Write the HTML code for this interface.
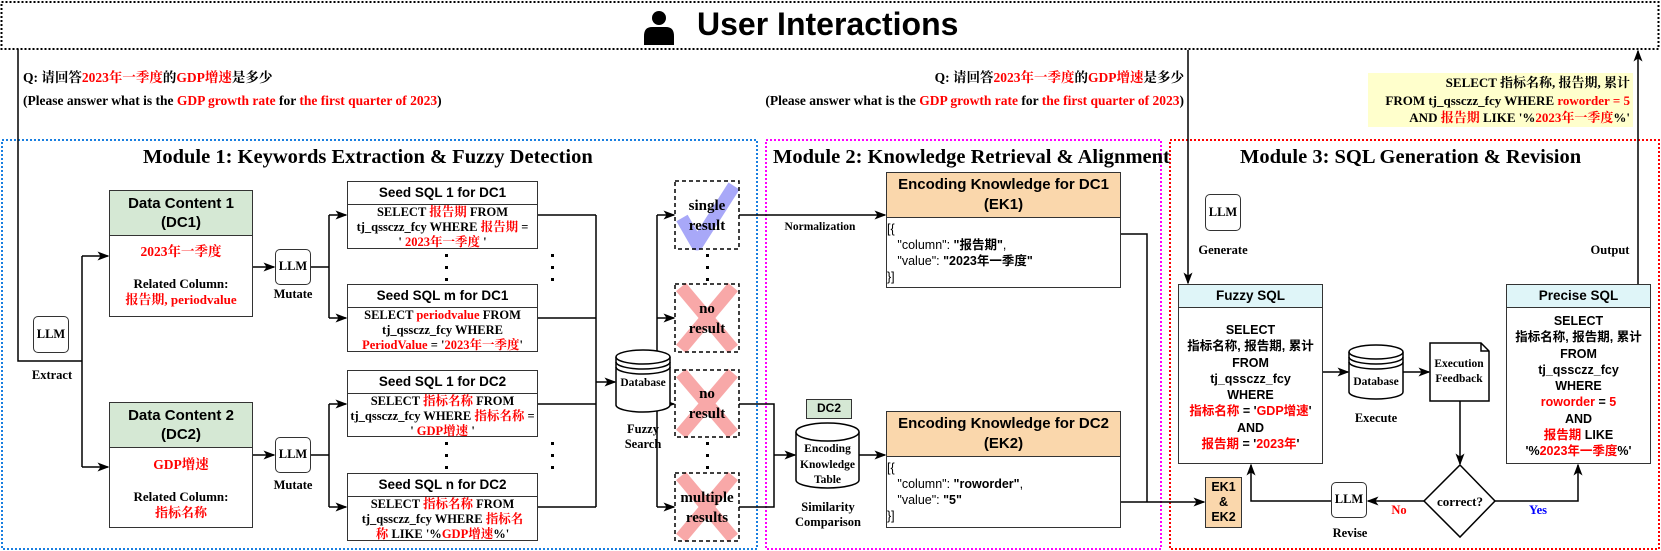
<!DOCTYPE html>
<html><head><meta charset="utf-8"><style>
html,body{margin:0;padding:0;}
body{width:1661px;height:551px;background:#fff;position:relative;overflow:hidden;font-family:"Liberation Serif","Noto Serif CJK SC",serif;}
.a{position:absolute;white-space:nowrap;}
.s{font-family:"Liberation Sans","Noto Sans CJK SC",sans-serif;font-weight:bold;}
.b{font-weight:bold;}
.r{color:#f00;}
.c{text-align:center;}
.box{position:absolute;border:1.5px solid #333;box-sizing:border-box;background:#fff;}
.hd{border-bottom:1.5px solid #333;box-sizing:border-box;text-align:center;font-family:"Liberation Sans","Noto Sans CJK SC",sans-serif;font-weight:bold;white-space:nowrap;}
.t{font-size:12.5px;font-weight:bold;text-align:center;line-height:15px;white-space:nowrap;}
.q{font-size:13.5px;line-height:15px;}
svg{position:absolute;left:0;top:0;}
</style></head><body>
<svg width="1661" height="551" viewBox="0 0 1661 551">
<defs><marker id="ar" markerWidth="8" markerHeight="8" refX="7" refY="4" orient="auto"><path d="M0,1 L8,4 L0,7 L2,4z" fill="#000"/></marker></defs>
<rect x="1.5" y="2" width="1657" height="47" fill="none" stroke="#000" stroke-width="2" stroke-dasharray="2,2"/>
<rect x="1368" y="73" width="265" height="54" fill="#ffffcc"/>
<rect x="2" y="140" width="755" height="409" fill="none" stroke="#1a7fe0" stroke-width="2" stroke-dasharray="2,2"/>
<rect x="766" y="140" width="395" height="409" fill="none" stroke="#f0f" stroke-width="2" stroke-dasharray="2,2"/>
<rect x="1170" y="140" width="489" height="409" fill="none" stroke="#f00" stroke-width="2" stroke-dasharray="2,2"/>
<g fill="none" stroke="#000" stroke-width="1.5">
<polyline points="18,49 18,361 82,361"/>
<line x1="82" y1="256" x2="82" y2="467"/>
<line x1="82" y1="256" x2="108" y2="256" marker-end="url(#ar)"/>
<line x1="82" y1="467" x2="108" y2="467" marker-end="url(#ar)"/>
<line x1="253" y1="267" x2="274" y2="267" marker-end="url(#ar)"/>
<line x1="253" y1="455" x2="274" y2="455" marker-end="url(#ar)"/>
<line x1="311" y1="267" x2="329" y2="267"/><line x1="311" y1="455" x2="329" y2="455"/>
<line x1="329" y1="215" x2="329" y2="318"/><line x1="329" y1="404" x2="329" y2="507"/>
<line x1="329" y1="215" x2="346" y2="215" marker-end="url(#ar)"/>
<line x1="329" y1="318" x2="346" y2="318" marker-end="url(#ar)"/>
<line x1="329" y1="404" x2="346" y2="404" marker-end="url(#ar)"/>
<line x1="329" y1="507" x2="346" y2="507" marker-end="url(#ar)"/>
<line x1="538" y1="215" x2="596" y2="215"/><line x1="538" y1="318" x2="596" y2="318"/>
<line x1="538" y1="404" x2="596" y2="404"/><line x1="538" y1="507" x2="596" y2="507"/>
<line x1="596" y1="215" x2="596" y2="507"/>
<line x1="596" y1="382" x2="615" y2="382" marker-end="url(#ar)"/>
<line x1="670" y1="382" x2="657" y2="382"/>
<line x1="657" y1="215" x2="657" y2="507"/>
<line x1="657" y1="215" x2="674" y2="215" marker-end="url(#ar)"/>
<line x1="657" y1="318" x2="674" y2="318" marker-end="url(#ar)"/>
<line x1="657" y1="404" x2="674" y2="404" marker-end="url(#ar)"/>
<line x1="657" y1="507" x2="674" y2="507" marker-end="url(#ar)"/>
<line x1="739" y1="215" x2="885" y2="215" marker-end="url(#ar)"/>
<polyline points="739,404 774,404 774,507 739,507"/>
<line x1="774" y1="455" x2="795" y2="455" marker-end="url(#ar)"/>
<line x1="859" y1="455" x2="885" y2="455" marker-end="url(#ar)"/>
<polyline points="1120,234 1147,234 1147,502"/>
<line x1="1120" y1="502" x2="1204" y2="502" marker-end="url(#ar)"/>
<line x1="1188" y1="50" x2="1188" y2="283" marker-end="url(#ar)"/>
<line x1="1323" y1="372" x2="1348" y2="372" marker-end="url(#ar)"/>
<line x1="1403" y1="372" x2="1429" y2="372" marker-end="url(#ar)"/>
<line x1="1460" y1="401" x2="1460" y2="464" marker-end="url(#ar)"/>
<line x1="1424" y1="501" x2="1368" y2="501" marker-end="url(#ar)"/>
<polyline points="1331,501 1251,501 1251,465" marker-end="url(#ar)"/>
<polyline points="1495,501 1578,501 1578,465" marker-end="url(#ar)"/>
<line x1="1638" y1="284" x2="1638" y2="51" marker-end="url(#ar)"/>
</g>
<g fill="#000">
<rect x="445" y="254" width="3" height="3"/><rect x="445" y="266" width="3" height="3"/><rect x="445" y="278" width="3" height="3"/>
<rect x="551" y="254" width="3" height="3"/><rect x="551" y="266" width="3" height="3"/><rect x="551" y="278" width="3" height="3"/>
<rect x="445" y="442" width="3" height="3"/><rect x="445" y="454" width="3" height="3"/><rect x="445" y="466" width="3" height="3"/>
<rect x="551" y="442" width="3" height="3"/><rect x="551" y="454" width="3" height="3"/><rect x="551" y="466" width="3" height="3"/>
<rect x="706" y="254" width="3" height="3"/><rect x="706" y="266" width="3" height="3"/><rect x="706" y="278" width="3" height="3"/>
<rect x="706" y="442" width="3" height="3"/><rect x="706" y="454" width="3" height="3"/><rect x="706" y="466" width="3" height="3"/>
</g>
<path d="M682,218 L697,244 L734,186" fill="none" stroke="#a8a8f8" stroke-width="13" stroke-linejoin="round"/>
<g stroke="#f8a8a8" stroke-width="13">
<line x1="681" y1="287" x2="733" y2="349"/><line x1="733" y1="287" x2="681" y2="349"/>
<line x1="681" y1="373" x2="733" y2="434"/><line x1="733" y1="373" x2="681" y2="434"/>
<line x1="681" y1="476" x2="733" y2="538"/><line x1="733" y1="476" x2="681" y2="538"/>
</g>
<g fill="none" stroke="#000" stroke-width="1.5" stroke-dasharray="4,3">
<rect x="675" y="181" width="64" height="68"/><rect x="675" y="284" width="64" height="68"/>
<rect x="675" y="370" width="64" height="67"/><rect x="675" y="473" width="64" height="68"/>
</g>
<g fill="#fff" stroke="#000" stroke-width="1.5">
<path d="M616,357 L616,405 A27,7 0 0 0 670,405 L670,357"/><ellipse cx="643" cy="357" rx="27" ry="7"/>
<path d="M616,362 A27,7 0 0 0 670,362 M616,367 A27,7 0 0 0 670,367" fill="none"/>
<path d="M796,432 L796,480 A31.5,8 0 0 0 859,480 L859,432"/><ellipse cx="827.5" cy="432" rx="31.5" ry="9"/>
<path d="M1349,352 L1349,392 A27,7 0 0 0 1403,392 L1403,352"/><ellipse cx="1376" cy="352" rx="27" ry="7"/>
<path d="M1349,357 A27,7 0 0 0 1403,357 M1349,362 A27,7 0 0 0 1403,362" fill="none"/>
<path d="M1430,343 L1481,343 L1489,351 L1489,401 L1430,401 Z"/><path d="M1481,343 L1481,351 L1489,351" fill="none"/>
<path d="M1460,465 L1495,501 L1460,537 L1424,501 Z"/>
</g>
<circle cx="659" cy="18" r="7" fill="#000"/><path d="M644,45 L644,36 Q644,27 652,27 L666,27 Q674,27 674,36 L674,45 Z" fill="#000"/>
</svg>

<div class="a s" style="left:697px;top:6px;font-size:32px;">User Interactions</div>
<div class="a b q" style="left:23px;top:70px;">Q: 请回答<span class="r">2023年一季度</span>的<span class="r">GDP增速</span>是多少</div>
<div class="a b q" style="left:23px;top:93px;">(Please answer what is the <span class="r">GDP growth rate</span> for <span class="r">the first quarter of 2023</span>)</div>
<div class="a b q" style="left:584px;top:70px;text-align:right;width:600px;">Q: 请回答<span class="r">2023年一季度</span>的<span class="r">GDP增速</span>是多少</div>
<div class="a b q" style="left:584px;top:93px;text-align:right;width:600px;">(Please answer what is the <span class="r">GDP growth rate</span> for <span class="r">the first quarter of 2023</span>)</div>
<div class="a b" style="left:1368px;top:74px;width:262px;font-size:13px;line-height:17.5px;text-align:right;">SELECT 指标名称, 报告期, 累计<br>FROM tj_qssczz_fcy WHERE <span class="r">roworder = 5</span><br>AND <span class="r">报告期</span> LIKE '%<span class="r">2023年一季度</span>%'</div>

<div class="a b" style="left:143px;top:146px;font-size:20.5px;">Module 1: Keywords Extraction &amp; Fuzzy Detection</div>
<div class="a b" style="left:773px;top:146px;font-size:20.5px;">Module 2: Knowledge Retrieval &amp; Alignment</div>
<div class="a b" style="left:1240px;top:146px;font-size:20.5px;">Module 3: SQL Generation &amp; Revision</div>

<div class="box t" style="left:33px;top:316px;width:36px;height:37px;border-radius:5px;line-height:34px;">LLM</div>
<div class="a t" style="left:22px;top:368px;width:60px;">Extract</div>
<div class="box t" style="left:275px;top:249px;width:36px;height:36px;border-radius:5px;line-height:33px;">LLM</div>
<div class="a t" style="left:263px;top:287px;width:60px;">Mutate</div>
<div class="box t" style="left:275px;top:437px;width:36px;height:36px;border-radius:5px;line-height:33px;">LLM</div>
<div class="a t" style="left:263px;top:478px;width:60px;">Mutate</div>
<div class="box t" style="left:1205px;top:194px;width:36px;height:37px;border-radius:5px;line-height:34px;">LLM</div>
<div class="a t" style="left:1193px;top:243px;width:60px;">Generate</div>
<div class="box t" style="left:1331px;top:482px;width:36px;height:36px;border-radius:5px;line-height:33px;">LLM</div>
<div class="a t" style="left:1320px;top:526px;width:60px;">Revise</div>
<div class="a t" style="left:1580px;top:243px;width:60px;">Output</div>

<div class="box" style="left:109px;top:190px;width:144px;height:127px;">
<div class="hd" style="height:45px;background:#d5e8d4;font-size:15px;line-height:19px;padding-top:3px;">Data Content 1<br>(DC1)</div>
<div class="t r" style="margin-top:8px;font-size:13.5px;">2023年一季度</div>
<div class="t" style="margin-top:17px;font-size:13px;line-height:16px;">Related Column:<br><span class="r">报告期, periodvalue</span></div></div>
<div class="box" style="left:109px;top:402px;width:144px;height:126px;">
<div class="hd" style="height:45px;background:#d5e8d4;font-size:15px;line-height:19px;padding-top:3px;">Data Content 2<br>(DC2)</div>
<div class="t r" style="margin-top:9px;font-size:13.5px;">GDP增速</div>
<div class="t" style="margin-top:17px;font-size:13px;line-height:16px;">Related Column:<br><span class="r">指标名称</span></div></div>

<div class="box" style="left:347px;top:181px;width:191px;height:68px;">
<div class="hd" style="height:23px;font-size:13.5px;line-height:21px;">Seed SQL 1 for DC1</div>
<div class="t">SELECT <span class="r">报告期</span> FROM<br>tj_qssczz_fcy WHERE <span class="r">报告期</span> =<br>' <span class="r">2023年一季度</span> '</div></div>
<div class="box" style="left:347px;top:284px;width:191px;height:68px;">
<div class="hd" style="height:23px;font-size:13.5px;line-height:21px;">Seed SQL m for DC1</div>
<div class="t">SELECT <span class="r">periodvalue</span> FROM<br>tj_qssczz_fcy WHERE<br><span class="r">PeriodValue</span> = '<span class="r">2023年一季度</span>'</div></div>
<div class="box" style="left:347px;top:370px;width:191px;height:67px;">
<div class="hd" style="height:23px;font-size:13.5px;line-height:21px;">Seed SQL 1 for DC2</div>
<div class="t">SELECT <span class="r">指标名称</span> FROM<br>tj_qssczz_fcy WHERE <span class="r">指标名称</span> =<br>' <span class="r">GDP增速</span> '</div></div>
<div class="box" style="left:347px;top:473px;width:191px;height:68px;">
<div class="hd" style="height:23px;font-size:13.5px;line-height:21px;">Seed SQL n for DC2</div>
<div class="t">SELECT <span class="r">指标名称</span> FROM<br>tj_qssczz_fcy WHERE <span class="r">指标名</span><br><span class="r">称</span> LIKE '%<span class="r">GDP增速</span>%'</div></div>

<div class="a t" style="left:613px;top:376px;width:60px;font-size:11.5px;">Database</div>
<div class="a t" style="left:613px;top:422px;width:60px;">Fuzzy<br>Search</div>

<div class="a t" style="left:671px;top:196px;width:72px;font-size:15px;line-height:20px;">single<br>result</div>
<div class="a t" style="left:671px;top:299px;width:72px;font-size:15px;line-height:20px;">no<br>result</div>
<div class="a t" style="left:671px;top:384px;width:72px;font-size:15px;line-height:20px;">no<br>result</div>
<div class="a t" style="left:671px;top:488px;width:72px;font-size:15px;line-height:20px;">multiple<br>results</div>

<div class="a t" style="left:780px;top:220px;width:80px;font-size:11.5px;">Normalization</div>
<div class="box s c" style="left:806px;top:399px;width:46px;height:20px;background:#d5e8d4;font-size:12px;line-height:17px;">DC2</div>
<div class="a t" style="left:794px;top:442px;width:67px;font-size:11.5px;line-height:15.5px;">Encoding<br>Knowledge<br>Table</div>
<div class="a t" style="left:788px;top:500px;width:80px;">Similarity<br>Comparison</div>

<div class="box" style="left:886px;top:172px;width:235px;height:116px;">
<div class="hd" style="height:45px;background:#fad7ac;font-size:15px;line-height:19.5px;padding-top:2px;">Encoding Knowledge for DC1<br>(EK1)</div>
<div class="a" style="left:0;top:48px;font-family:'Liberation Sans','Noto Sans CJK SC',sans-serif;font-size:12.5px;line-height:16px;">[{<br>&nbsp;&nbsp;&nbsp;"column": <b>"报告期"</b>,<br>&nbsp;&nbsp;&nbsp;"value": <b>"2023年一季度"</b><br>}]</div></div>
<div class="box" style="left:886px;top:411px;width:235px;height:117px;">
<div class="hd" style="height:45px;background:#fad7ac;font-size:15px;line-height:19.5px;padding-top:2px;">Encoding Knowledge for DC2<br>(EK2)</div>
<div class="a" style="left:0;top:48px;font-family:'Liberation Sans','Noto Sans CJK SC',sans-serif;font-size:12.5px;line-height:16px;">[{<br>&nbsp;&nbsp;&nbsp;"column": <b>"roworder"</b>,<br>&nbsp;&nbsp;&nbsp;"value": <b>"5"</b><br>}]</div></div>

<div class="box s c" style="left:1205px;top:477px;width:37px;height:51px;background:#fad7ac;font-size:12.5px;line-height:15px;padding-top:2px;">EK1<br>&amp;<br>EK2</div>

<div class="box" style="left:1178px;top:284px;width:145px;height:180px;">
<div class="hd" style="height:23px;background:#dff5f8;font-size:13.5px;line-height:21px;">Fuzzy SQL</div>
<div class="s c" style="font-size:12.5px;line-height:16.3px;margin-top:14px;white-space:nowrap;">SELECT<br>指标名称, 报告期, 累计<br>FROM<br>tj_qssczz_fcy<br>WHERE<br><span class="r">指标名称</span> = '<span class="r">GDP增速</span>'<br>AND<br><span class="r">报告期</span> = '<span class="r">2023年</span>'</div></div>
<div class="box" style="left:1506px;top:284px;width:145px;height:180px;">
<div class="hd" style="height:23px;background:#dff5f8;font-size:13.5px;line-height:21px;">Precise SQL</div>
<div class="s c" style="font-size:12.5px;line-height:16.3px;margin-top:5px;white-space:nowrap;">SELECT<br>指标名称, 报告期, 累计<br>FROM<br>tj_qssczz_fcy<br>WHERE<br><span class="r">roworder</span> = <span class="r">5</span><br>AND<br><span class="r">报告期</span> LIKE<br>'%<span class="r">2023年一季度</span>%'</div></div>

<div class="a t" style="left:1346px;top:375px;width:60px;font-size:11.5px;">Database</div>
<div class="a t" style="left:1346px;top:411px;width:60px;">Execute</div>
<div class="a t" style="left:1429px;top:357px;width:60px;font-size:11.5px;">Execution<br>Feedback</div>
<div class="a t" style="left:1425px;top:494px;width:70px;font-size:13px;">correct?</div>
<div class="a t r" style="left:1386px;top:503px;width:26px;">No</div>
<div class="a t" style="left:1524px;top:503px;width:28px;color:#00f;">Yes</div>
</body></html>
